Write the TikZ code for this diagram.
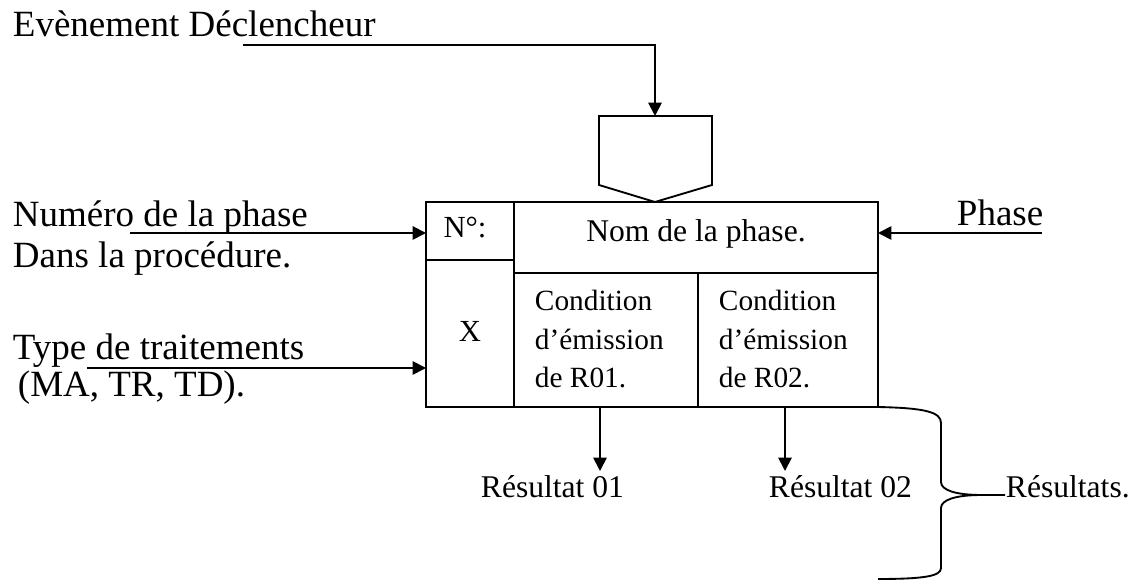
\documentclass[tikz,border=0pt]{standalone}
\usepackage{fontspec}
\setmainfont{Liberation Serif}
\usetikzlibrary{arrows.meta}
\begin{document}
\begin{tikzpicture}[x=0.75pt,y=-0.75pt,
  line width=1.4pt,
  big/.style={font=\fontsize{27.75}{33}\selectfont, inner sep=0pt, anchor=base west},
  mid/.style={font=\fontsize{23}{28}\selectfont, inner sep=0pt, anchor=base},
  small/.style={font=\fontsize{22}{29}\selectfont, inner sep=0pt, anchor=base west},
  res/.style={font=\fontsize{23.7}{28}\selectfont, inner sep=0pt, anchor=base west},
  arr/.style={-{Triangle[length=10pt,width=10pt]}},
  ]
\useasboundingbox (0,0) rectangle (1136,580);

% left / top labels
\node[big] (evt) at (12,37) {Evènement Déclencheur};
\node[big] (num) at (12,227) {Numéro de la phase};
\node[big] (dans) at (12,268) {Dans la procédure.};
\node[big] (type) at (12,360) {Type de traitements};
\node[big] (ma) at (17,397) {(MA, TR, TD).};
\node[big] (phase) at (956,226) {Phase};

% trigger symbol
\coordinate (pentop) at (655,116);
\draw (599,116) -- (712,116) -- (712,185) -- (655,202) -- (599,185) -- cycle;

% main box
\coordinate (boxNW) at (426,202);
\coordinate (boxSE) at (878,407);
\draw (boxNW) rectangle (boxSE);
\draw (514,202) -- (514,407);
\draw (426,260) -- (514,260);
\draw (514,273) -- (878,273);
\draw (698,273) -- (698,407);

\node[mid] (no) at (465,238) {N°:};
\node[mid] (x) at (470,342) {X};
\node[mid, font=\fontsize{23.7}{28}\selectfont] (nom) at (696,242) {Nom de la phase.};

\node[small] (c1a) at (534,311) {Condition};
\node[small] (c1b) at (534,350) {d’émission};
\node[small] (c1c) at (534,388) {de R01.};
\node[small] (c2a) at (718,311) {Condition};
\node[small] (c2b) at (718,350) {d’émission};
\node[small] (c2c) at (718,388) {de R02.};

% incoming connectors
\coordinate (evtS) at (243,45);
\draw[arr] (evtS) -- (655,45) -- (pentop);
\coordinate (numS) at (130,233);
\coordinate (numE) at (426,233);
\draw[arr] (numS) -- (numE);
\coordinate (typeS) at (87,368);
\coordinate (typeE) at (426,368);
\draw[arr] (typeS) -- (typeE);
\coordinate (phS) at (1042,233);
\coordinate (phE) at (878,233);
\draw[arr] (phS) -- (phE);

% results
\node[res] (r1) at (480,498) {Résultat 01};
\node[res] (r2) at (768,498) {Résultat 02};
\node[res] (rs) at (1005,498) {Résultats.};
\coordinate (o1) at (600,407);
\coordinate (o2) at (785,407);
\draw[arr] (o1) -- (600,471);
\draw[arr] (o2) -- (785,471);

% brace
\coordinate (tip) at (1005,495);
\draw (boxSE) .. controls (925,408) and (941,412) .. (941,423)
  -- (941,482) .. controls (941,490) and (955,495) .. (982,495) -- (tip);
\draw (982,495) .. controls (955,495) and (941,500) .. (941,508)
  -- (941,568) .. controls (941,576) and (925,579) .. (878,579);
\end{tikzpicture}
\end{document}
